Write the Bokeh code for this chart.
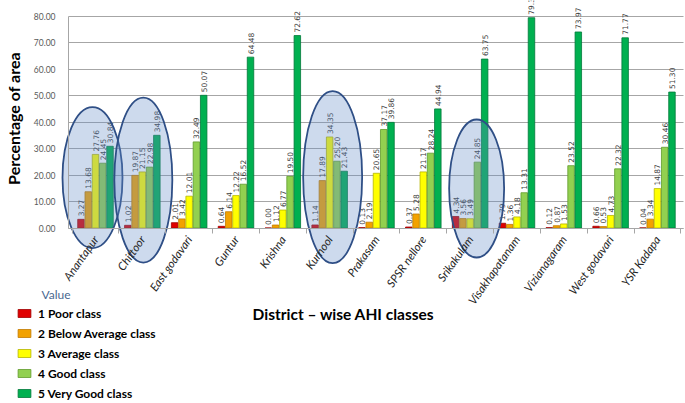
import math
from bokeh.plotting import figure
from bokeh.models import (ColumnDataSource, Range1d, FixedTicker, NumeralTickFormatter,
                          Legend, LegendItem, Label)
from bokeh.transform import dodge
from bokeh.core.properties import value
from bokeh.embed import file_html
from bokeh.resources import INLINE

# ---------------- data ----------------
districts = ["Anantapur", "Chittoor", "East godavari", "Guntur", "Krishna", "Kurnool",
             "Prakasam", "SPSR nellore", "Srikakulam", "Visakhapatanam", "Vizianagaram",
             "West godavari", "YSR Kadapa"]
poor = [3.27, 1.02, 2.01, 0.64, 0.00, 1.14, 0.13, 0.37, 4.34, 1.79, 0.12, 0.66, 0.04]
below_average = [13.68, 19.87, 3.42, 6.14, 1.12, 17.89, 2.19, 5.28, 3.56, 1.36, 0.87, 0.53, 3.34]
average = [27.76, 21.15, 12.01, 12.22, 6.77, 34.35, 20.65, 21.17, 3.49, 4.18, 1.53, 4.73, 14.87]
good = [24.45, 22.98, 32.49, 16.52, 19.50, 25.20, 37.17, 28.24, 24.85, 13.31, 23.52, 22.32, 30.46]
very_good = [30.84, 34.98, 50.07, 64.48, 72.62, 21.43, 39.86, 44.94, 63.75, 79.36, 73.97, 71.77, 51.30]
class_names = ["Poor class", "Below Average class", "Average class", "Good class", "Very Good class"]
y_ticks = [0, 10, 20, 30, 40, 50, 60, 70, 80]
highlighted = ["Anantapur", "Chittoor", "Kurnool", "Srikakulam"]

series = [poor, below_average, average, good, very_good]

# ---------------- styles / layout ----------------
W, H = 685, 403
PX_X = 46.83          # px per district slot
PX_Y = 2.65           # px per percentage unit
FIRST_CX = 95         # px of first district centre
ZERO_Y = 227.5        # px of 0 line

x_start = -FIRST_CX / PX_X
x_end = (W - FIRST_CX) / PX_X
y_end = ZERO_Y / PX_Y
y_start = -(H - ZERO_Y) / PX_Y

def sx(px):
    return x_start + px / PX_X

def sy(py):
    return y_end - py / PX_Y

bar_fill = ["#e00000", "#f2a200", "#ffff00", "#92d050", "#00b050"]
bar_line = ["#a00000", "#c07a00", "#b5b500", "#619a2c", "#00793a"]
offsets = [-0.31, -0.155, 0.0, 0.155, 0.31]
bar_w = 0.139

src = ColumnDataSource(dict(
    idx=list(range(len(districts))),
    district=districts,
    **{f"v{k}": s for k, s in enumerate(series)},
    **{f"t{k}": [f"{v:.2f}" for v in s] for k, s in enumerate(series)},
))

p = figure(width=W, height=H, output_backend="svg", toolbar_location=None,
           x_range=Range1d(x_start, x_end), y_range=Range1d(y_start, y_end),
           min_border=0, min_border_left=0, min_border_right=0,
           min_border_top=0, min_border_bottom=0)
p.outline_line_color = None
p.background_fill_color = "white"
p.border_fill_color = "white"

yaxis_x = sx(68)
x_axis_end = sx(683)

# grid
p.xgrid.visible = False
p.ygrid.ticker = FixedTicker(ticks=y_ticks)
p.ygrid.grid_line_color = "#a6a6a6"
p.ygrid.grid_line_width = 1
p.ygrid.cross_bounds = (yaxis_x, x_axis_end)

# bars
bars = []
for k in range(5):
    r = p.vbar(x=dodge("idx", offsets[k]), top=f"v{k}", width=bar_w, source=src,
               fill_color=bar_fill[k], line_color=bar_line[k], line_width=0.8)
    bars.append(r)

# value labels
for k in range(5):
    p.text(x=dodge("idx", offsets[k]), y=f"v{k}", text=f"t{k}", source=src,
           angle=math.pi / 2, text_align="left", text_baseline="middle",
           y_offset=-3, text_font=value("DejaVu Sans"), text_font_size="7.5px",
           text_color="#404040")

# highlight ellipses
ell_dx = [-3, 1, 3, 6.5]
ell_y = [19.0, 18.1, 19.2, 14.9]
ell_w = [60, 58, 59, 55]
ell_h = [141, 165, 172, 138]
hi_idx = [districts.index(d) for d in highlighted]
p.ellipse(x=[i + d / PX_X for i, d in zip(hi_idx, ell_dx)], y=ell_y,
          width=ell_w, height=ell_h, width_units="screen", height_units="screen",
          fill_color="#628dc6", fill_alpha=0.32, line_color="#2f4f86", line_width=1.8)

# x axis
p.xaxis.fixed_location = 0
p.xaxis.bounds = (yaxis_x, x_axis_end)
p.xaxis.ticker = FixedTicker(ticks=list(range(len(districts))),
                             minor_ticks=[i - 0.5 for i in range(len(districts) + 1)])
p.xaxis.major_label_overrides = {i: d for i, d in enumerate(districts)}
p.xaxis.major_label_orientation = 0.96
p.xaxis.major_tick_line_color = None
p.xaxis.major_tick_out = 0
p.xaxis.major_tick_in = 0
p.xaxis.minor_tick_out = 5
p.xaxis.minor_tick_in = 0
p.xaxis.minor_tick_line_color = "#a6a6a6"
p.xaxis.axis_line_color = "#a6a6a6"
p.xaxis.major_label_standoff = 4
p.xaxis.major_label_text_font = "Lato"
p.xaxis.major_label_text_font_style = "italic"
p.xaxis.major_label_text_font_size = "11.5px"
p.xaxis.major_label_text_color = "#262626"

# y axis
p.yaxis.fixed_location = yaxis_x
p.yaxis.bounds = (0, 80)
p.yaxis.ticker = FixedTicker(ticks=y_ticks)
p.yaxis.formatter = NumeralTickFormatter(format="0.00")
p.yaxis.major_tick_line_color = None
p.yaxis.major_tick_out = 0
p.yaxis.major_tick_in = 0
p.yaxis.minor_tick_line_color = None
p.yaxis.axis_line_color = "#a6a6a6"
p.yaxis.major_label_standoff = 13
p.yaxis.major_label_text_font = "Lato"
p.yaxis.major_label_text_font_size = "8.5px"
p.yaxis.major_label_text_color = "#595959"

# titles
p.add_layout(Label(x=sx(12.5), y=sy(118), text="Percentage of area", angle=math.pi / 2,
                   text_align="center", text_baseline="middle", text_font="Lato",
                   text_font_style="bold", text_font_size="16px", text_color="black"))
p.add_layout(Label(x=sx(343), y=sy(313), text="District \u2013 wise AHI classes",
                   text_align="center", text_baseline="middle", text_font="Lato",
                   text_font_style="bold", text_font_size="15.5px", text_color="black"))
p.add_layout(Label(x=sx(41), y=sy(294), text="Value", text_align="left",
                   text_baseline="middle", text_font="Lato", text_font_size="12px",
                   text_color="#4a6890"))

# legend
items = [LegendItem(label=f"{k + 1} {class_names[k]}", renderers=[bars[k]]) for k in range(5)]
legend = Legend(items=items, location=(16, 0), orientation="vertical",
                glyph_width=16, glyph_height=10, label_height=20, spacing=0,
                padding=0, margin=0, label_standoff=6,
                border_line_color=None, background_fill_alpha=0,
                label_text_font="Lato", label_text_font_style="bold",
                label_text_font_size="12px", label_text_color="black")
p.add_layout(legend)

open("out.html", "w").write(file_html(p, INLINE))
